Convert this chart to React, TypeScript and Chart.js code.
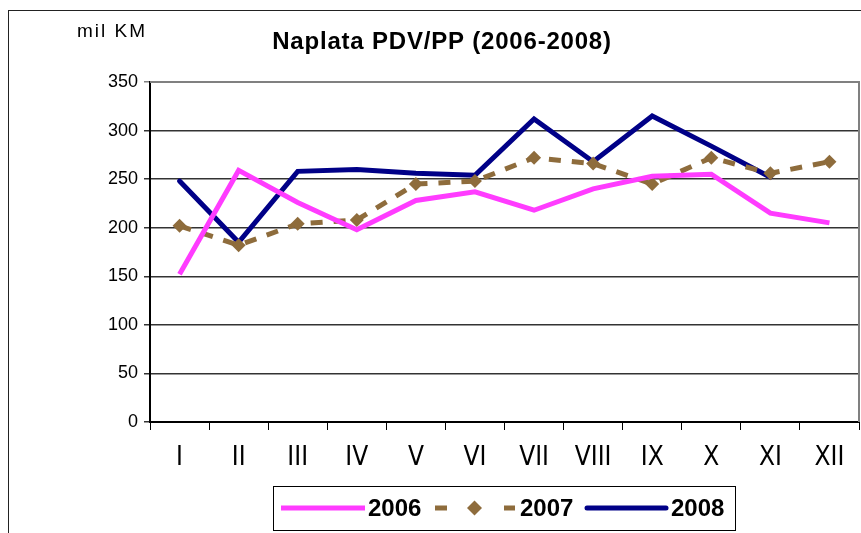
import React, { useEffect, useRef } from "react";
import { Chart, registerables } from "chart.js";

Chart.register(...registerables);

const categories = ["I", "II", "III", "IV", "V", "VI", "VII", "VIII", "IX", "X", "XI", "XII"];
const values2006 = [152, 259, 226, 198, 228, 237, 218, 240, 253, 255, 215, 205];
const values2007 = [202, 182, 204, 208, 245, 248, 272, 266, 245, 272, 256, 268];
const values2008 = [248, 185, 258, 260, 256, 254, 312, 268, 315, 284, 252, null];
const yTicks = [0, 50, 100, 150, 200, 250, 300, 350];
const titleText = "Naplata PDV/PP (2006-2008)";
const unitText = "mil KM";

const PINK = "#FF3CFF";
const BROWN = "#8E6C3C";
const NAVY = "#000087";

const decorPlugin = {
  id: "decor",
  afterDraw(chart: any) {
    const ctx = chart.ctx;
    const ca = chart.chartArea;
    ctx.save();
    // outer frame
    ctx.strokeStyle = "#222";
    ctx.lineWidth = 1;
    ctx.strokeRect(8.5, 10.5, 1000, 1000);
    // plot border top/right
    ctx.strokeStyle = "#808080";
    ctx.lineWidth = 2;
    ctx.beginPath();
    ctx.moveTo(ca.left, ca.top);
    ctx.lineTo(ca.right, ca.top);
    ctx.lineTo(ca.right, ca.bottom);
    ctx.stroke();
    // title
    ctx.fillStyle = "#000";
    ctx.font = "bold 24px 'Liberation Sans', Arial, sans-serif";
    ctx.textAlign = "center";
    ctx.textBaseline = "alphabetic";
    (ctx as any).letterSpacing = "0.8px";
    ctx.fillText(titleText, 442, 48.5);
    ctx.font = "19px 'Liberation Sans', Arial, sans-serif";
    (ctx as any).letterSpacing = "2px";
    ctx.fillText(unitText, 112, 37);
    (ctx as any).letterSpacing = "0px";
    // legend box
    ctx.fillStyle = "#fff";
    ctx.strokeStyle = "#000";
    ctx.lineWidth = 1;
    ctx.fillRect(273.5, 486.5, 462, 44);
    ctx.strokeRect(273.5, 486.5, 462, 44);
    const ly = 508;
    ctx.lineCap = "butt";
    // 2006
    ctx.strokeStyle = PINK;
    ctx.lineWidth = 5;
    ctx.beginPath();
    ctx.moveTo(281, ly);
    ctx.lineTo(365, ly);
    ctx.stroke();
    // 2007
    ctx.strokeStyle = BROWN;
    ctx.beginPath();
    ctx.moveTo(435, ly);
    ctx.lineTo(447, ly);
    ctx.moveTo(504, ly);
    ctx.lineTo(515, ly);
    ctx.stroke();
    ctx.fillStyle = BROWN;
    ctx.beginPath();
    ctx.moveTo(474.5, ly - 7.5);
    ctx.lineTo(482, ly);
    ctx.lineTo(474.5, ly + 7.5);
    ctx.lineTo(467, ly);
    ctx.closePath();
    ctx.fill();
    // 2008
    ctx.strokeStyle = NAVY;
    ctx.lineCap = "round";
    ctx.beginPath();
    ctx.moveTo(587, ly);
    ctx.lineTo(666, ly);
    ctx.stroke();
    ctx.fillStyle = "#000";
    ctx.font = "bold 24px 'Liberation Sans', Arial, sans-serif";
    ctx.textAlign = "left";
    ctx.textBaseline = "middle";
    ctx.fillText("2006", 368, ly + 1);
    ctx.fillText("2007", 520, ly + 1);
    ctx.fillText("2008", 671, ly + 1);
    ctx.restore();
  },
};

export default function App() {
  const canvasRef = useRef<HTMLCanvasElement | null>(null);

  useEffect(() => {
    const canvas = canvasRef.current;
    if (!canvas) return;
    const chart = new Chart(canvas, {
      type: "line",
      data: {
        labels: categories,
        datasets: [
          {
            label: "2006",
            data: values2006,
            borderColor: PINK,
            backgroundColor: PINK,
            borderWidth: 5,
            pointRadius: 0,
            tension: 0,
          },
          {
            label: "2007",
            data: values2007,
            borderColor: BROWN,
            backgroundColor: BROWN,
            borderWidth: 5,
            borderDash: [12, 11],
            pointStyle: "rectRot",
            pointRadius: 7,
            pointBorderWidth: 0,
            pointBackgroundColor: BROWN,
            tension: 0,
          },
          {
            label: "2008",
            data: values2008,
            borderColor: NAVY,
            backgroundColor: NAVY,
            borderWidth: 5,
            pointRadius: 0,
            tension: 0,
            borderCapStyle: "round",
          },
        ],
      },
      options: {
        animation: false,
        responsive: true,
        maintainAspectRatio: false,
        layout: { autoPadding: false, padding: { top: 82, right: 2, left: 0, bottom: 0 } },
        plugins: {
          legend: { display: false },
          title: { display: false },
          tooltip: { enabled: false },
        },
        scales: {
          x: {
            offset: true,
            grid: {
              offset: true,
              drawOnChartArea: false,
              drawTicks: true,
              tickLength: 8,
              color: "#000",
              lineWidth: 1,
            },
            border: { color: "#000", width: 2 },
            ticks: {
              color: "#000",
              font: { family: "'DejaVu Sans Condensed', 'Liberation Sans', sans-serif", size: 26 },
              padding: 13,
              autoSkip: false,
              maxRotation: 0,
            },
            afterFit(scale: any) {
              scale.height = 111;
              scale.paddingLeft = 0;
              scale.paddingRight = 0;
            },
          },
          y: {
            min: 0,
            max: 350,
            afterBuildTicks(scale: any) {
              scale.ticks = yTicks.map((v) => ({ value: v }));
            },
            grid: {
              color: (c: any) => (c.tick && c.tick.value === 350 ? "#808080" : "#333"),
              lineWidth: 1.5,
              tickLength: 6,
              drawTicks: true,
            },
            border: { color: "#000", width: 2 },
            ticks: {
              color: "#000",
              font: { family: "'Liberation Sans', Arial, sans-serif", size: 18 },
              padding: 6,
            },
            afterFit(scale: any) {
              scale.width = 150;
            },
          },
        },
      },
      plugins: [decorPlugin],
    });
    return () => chart.destroy();
  }, []);

  return (
    <div style={{ position: "absolute", left: 0, top: 0, width: 861, height: 533, background: "#fff" }}>
      <canvas ref={canvasRef} />
    </div>
  );
}
